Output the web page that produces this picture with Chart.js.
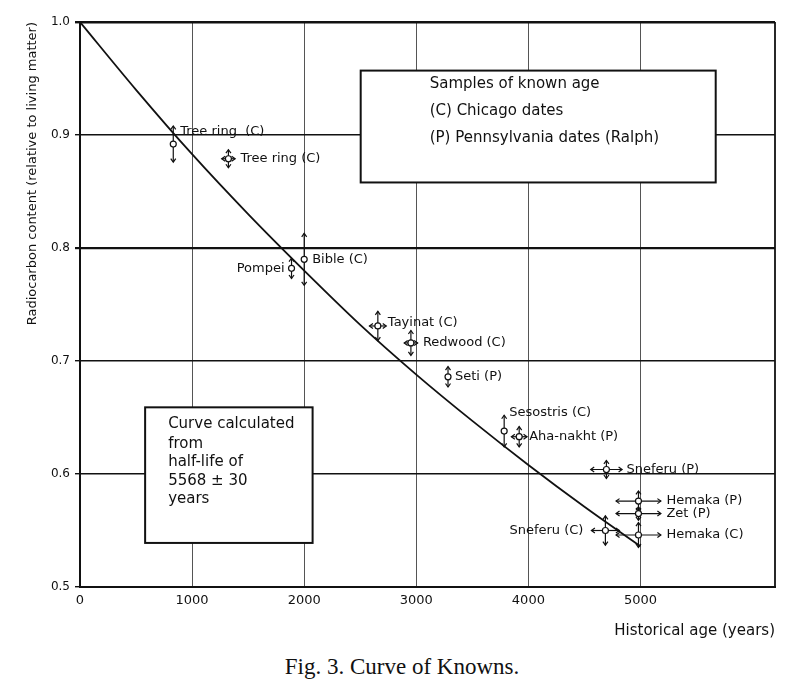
<!DOCTYPE html>
<html><head><meta charset="utf-8">
<script src="https://cdn.jsdelivr.net/npm/chart.js@4/dist/chart.umd.min.js"></script>
<style>
html,body{margin:0;padding:0;background:#fff;}
#wrap{position:relative;width:790px;height:690px;overflow:hidden;}
#c{position:absolute;left:0;top:0;}
#cap{position:absolute;left:0;top:653px;width:790px;text-align:center;font-family:"Liberation Serif","DejaVu Serif",serif;font-size:23px;line-height:27px;color:#111;padding-left:14px;box-sizing:border-box;}
</style></head>
<body>
<div id="wrap"><canvas id="c" width="790" height="640"></canvas><div id="cap">Fig. 3. Curve of Knowns.</div></div>
<script>
// ---- data ----
const sampleNames = ['Tree ring  (C)', 'Tree ring (C)', 'Pompei', 'Bible (C)', 'Tayinat (C)', 'Redwood (C)', 'Seti (P)', 'Sesostris (C)', 'Aha-nakht (P)', 'Sneferu (P)', 'Hemaka (P)', 'Zet (P)', 'Sneferu (C)', 'Hemaka (C)'];
const sampleAges = [832, 1324, 1887, 2000, 2657, 2952, 3283, 3784, 3918, 4696, 4982, 4982, 4687, 4982];
const sampleRatios = [0.892, 0.879, 0.782, 0.790, 0.731, 0.716, 0.686, 0.638, 0.633, 0.604, 0.576, 0.565, 0.550, 0.546];
const ageErrors = [0, 60, 0, 0, 75, 60, 0, 0, 70, 140, 200, 200, 125, 200];
const ratioErrors = [0.016, 0.008, 0.009, 0.023, 0.013, 0.011, 0.009, 0.014, 0.009, 0.008, 0.009, 0.006, 0.013, 0.011];
const curveAges = [0, 500, 1000, 1500, 2000, 2500, 3000, 3500, 4000, 4500, 5000];
const curveRatios = [1.000, 0.940, 0.883, 0.830, 0.780, 0.732, 0.688, 0.647, 0.608, 0.571, 0.536];
const xTickValues = [0, 1000, 2000, 3000, 4000, 5000];
const yTickValues = [0.5, 0.6, 0.7, 0.8, 0.9, 1.0];
const legendLines = ['Samples of known age', '(C) Chicago dates', '(P) Pennsylvania dates (Ralph)'];
const curveNoteLines = ['Curve calculated', 'from', 'half-life of', '5568 \u00b1 30', 'years'];

// ---- layout (label offsets in px: dx, dy, align) ----
const labelLayout = [[7,-12,'left'],[12,0,'left'],[-7,0,'right'],[8,0,'left'],[10,-3,'left'],[12,0,'left'],[7,0,'left'],[5,-18,'left'],[10,0,'left'],[20,0,'left'],[28,0,'left'],[28,0,'left'],[-22,0,'right'],[28,0,'left']];
const legendBox = {x0:2504, x1:5671, y0:0.957, y1:0.858, tx:69, ty:[14,41,68]};
const noteBox = {x0:581, x1:2075, y0:0.659, y1:0.539, tx:23, ty:[17,37,55,74,92]};
const FONT = '"DejaVu Sans", sans-serif';

function arrow(ctx, x, y, dir) {
  const s = 2.5;
  ctx.beginPath();
  if (dir === 'up') { ctx.moveTo(x - s, y + s + 1); ctx.lineTo(x, y); ctx.lineTo(x + s, y + s + 1); }
  if (dir === 'down') { ctx.moveTo(x - s, y - s - 1); ctx.lineTo(x, y); ctx.lineTo(x + s, y - s - 1); }
  if (dir === 'left') { ctx.moveTo(x + s + 1, y - s); ctx.lineTo(x, y); ctx.lineTo(x + s + 1, y + s); }
  if (dir === 'right') { ctx.moveTo(x - s - 1, y - s); ctx.lineTo(x, y); ctx.lineTo(x - s - 1, y + s); }
  ctx.stroke();
}

function drawBox(ctx, xs, ys, b, lines) {
  const l = xs.getPixelForValue(b.x0), r = xs.getPixelForValue(b.x1);
  const t = ys.getPixelForValue(b.y0), bt = ys.getPixelForValue(b.y1);
  ctx.fillStyle = '#fff';
  ctx.fillRect(l, t, r - l, bt - t);
  ctx.strokeStyle = '#111';
  ctx.lineWidth = 2;
  ctx.strokeRect(l, t, r - l, bt - t);
  ctx.fillStyle = '#111';
  ctx.font = '15px ' + FONT;
  ctx.textAlign = 'left';
  ctx.textBaseline = 'middle';
  lines.forEach((s, i) => ctx.fillText(s, l + b.tx, t + b.ty[i]));
}

const overlay = {
  id: 'overlay',
  beforeDatasetsDraw(chart) {
    const {ctx, chartArea: a, scales: {x, y}} = chart;
    ctx.save();
    ctx.strokeStyle = '#111';
    ctx.lineWidth = 1.8;
    ctx.beginPath(); ctx.moveTo(a.right, a.top); ctx.lineTo(a.right, a.bottom); ctx.stroke();
    drawBox(ctx, x, y, legendBox, legendLines);
    drawBox(ctx, x, y, noteBox, curveNoteLines);
    ctx.strokeStyle = '#111';
    ctx.lineWidth = 1.2;
    sampleAges.forEach((age, i) => {
      const px = x.getPixelForValue(age), py = y.getPixelForValue(sampleRatios[i]);
      if (ratioErrors[i] > 0) {
        const t = y.getPixelForValue(sampleRatios[i] + ratioErrors[i]);
        const b = y.getPixelForValue(sampleRatios[i] - ratioErrors[i]);
        ctx.beginPath(); ctx.moveTo(px, t); ctx.lineTo(px, b); ctx.stroke();
        arrow(ctx, px, t, 'up'); arrow(ctx, px, b, 'down');
      }
      if (ageErrors[i] > 0) {
        const l = x.getPixelForValue(age - ageErrors[i]);
        const r = x.getPixelForValue(age + ageErrors[i]);
        ctx.beginPath(); ctx.moveTo(l, py); ctx.lineTo(r, py); ctx.stroke();
        arrow(ctx, l, py, 'left'); arrow(ctx, r, py, 'right');
      }
    });
    ctx.restore();
  },
  afterDatasetsDraw(chart) {
    const {ctx, scales: {x, y}} = chart;
    ctx.save();
    ctx.fillStyle = '#111';
    ctx.font = '13px ' + FONT;
    ctx.textBaseline = 'middle';
    sampleNames.forEach((n, i) => {
      const [dx, dy, al] = labelLayout[i];
      ctx.textAlign = al;
      ctx.fillText(n, x.getPixelForValue(sampleAges[i]) + dx, y.getPixelForValue(sampleRatios[i]) + dy);
    });
    ctx.restore();
  }
};

new Chart(document.getElementById('c'), {
  type: 'scatter',
  data: {
    datasets: [
      {
        type: 'line',
        label: 'Curve',
        data: curveAges.map((a, i) => ({x: a, y: curveRatios[i]})),
        borderColor: '#111',
        borderWidth: 1.8,
        pointRadius: 0,
        tension: 0.4,
        cubicInterpolationMode: 'monotone',
        fill: false
      },
      {
        label: 'Samples',
        data: sampleAges.map((a, i) => ({x: a, y: sampleRatios[i]})),
        pointStyle: 'circle',
        pointRadius: 3,
        pointBackgroundColor: '#fff',
        pointBorderColor: '#111',
        pointBorderWidth: 1.2
      }
    ]
  },
  options: {
    responsive: false,
    animation: false,
    devicePixelRatio: 1,
    layout: {padding: {left: 0, right: 15, top: 22, bottom: 0}},
    plugins: {legend: {display: false}, tooltip: {enabled: false}},
    scales: {
      x: {
        type: 'linear', min: 0, max: 6200,
        afterBuildTicks: s => { s.ticks = xTickValues.map(v => ({value: v})); },
        afterFit: s => { s.height = 53; },
        ticks: {font: {family: FONT, size: 13}, color: '#111', padding: 6, callback: v => String(v)},
        grid: {
          color: c => (c.tick && c.tick.value > 0) ? '#555' : 'rgba(0,0,0,0)',
          lineWidth: 1,
          tickLength: 0
        },
        border: {display: true, color: '#111', width: 2},
        title: {display: true, text: 'Historical age (years)', align: 'end', color: '#111', font: {family: FONT, size: 15}, padding: {top: 0, bottom: 0}}
      },
      y: {
        type: 'linear', min: 0.5, max: 1.0,
        afterBuildTicks: s => { s.ticks = yTickValues.map(v => ({value: v})); },
        afterFit: s => { s.width = 80; },
        ticks: {font: {family: FONT, size: 12}, color: '#111', padding: 5, callback: v => Number(v).toFixed(1)},
        grid: {
          color: c => {
            const v = c.tick ? Math.round(c.tick.value * 10) / 10 : 0;
            return v === 0.5 ? 'rgba(0,0,0,0)' : '#111';
          },
          lineWidth: c => {
            const v = c.tick ? Math.round(c.tick.value * 10) / 10 : 0;
            return v === 1.0 ? 2.4 : (v === 0.8 ? 2.2 : 1.4);
          },
          tickColor: '#111',
          tickLength: 5
        },
        border: {display: true, color: '#111', width: 2},
        title: {display: true, text: 'Radiocarbon content (relative to living matter)', align: 'end', color: '#111', font: {family: FONT, size: 13}, padding: {top: 25, bottom: 0}}
      }
    }
  },
  plugins: [overlay]
});
</script>
</body></html>
